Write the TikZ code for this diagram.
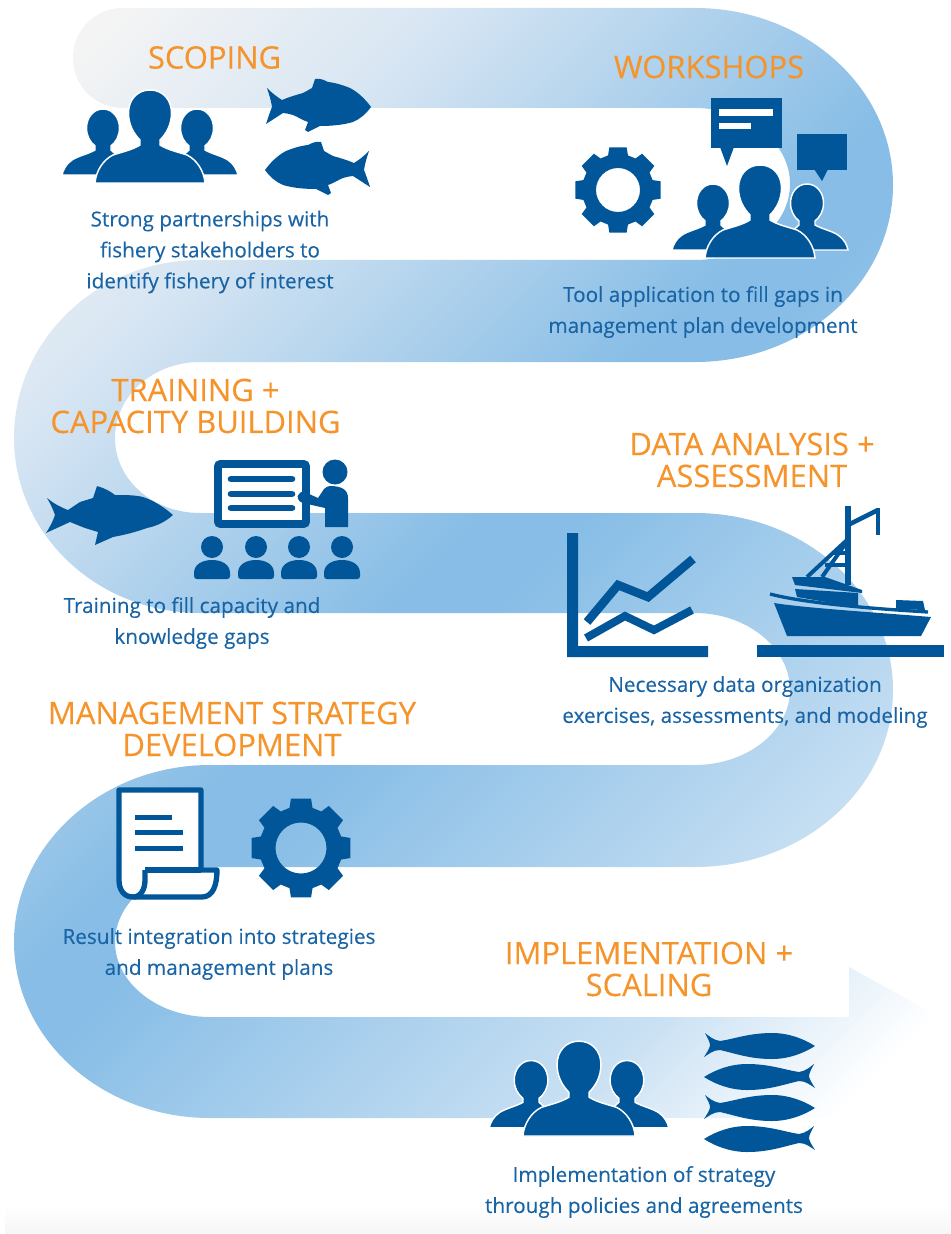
\documentclass[tikz,border=0pt]{standalone}
\usepackage{fontspec}
\setmainfont{Open Sans}
\newfontfamily\titlefont[FakeBold=0.25]{Open Sans}
\newfontfamily\descfont[FakeBold=0.2]{Open Sans}
\definecolor{icon}{RGB}{0,86,152}
\definecolor{titleor}{RGB}{246,148,44}
\definecolor{desc}{RGB}{24,100,165}
\definecolor{sa}{RGB}{244,244,244}
\definecolor{sb}{RGB}{216,230,243}
\definecolor{sc}{RGB}{135,189,230}
\definecolor{sd}{RGB}{200,224,243}
\definecolor{se}{RGB}{255,255,255}
\definecolor{floorgrey}{RGB}{246,246,246}
\pgfdeclarehorizontalshading{ribbonfill}{2000bp}{color(0bp)=(sa); color(69bp)=(sa); color(239bp)=(sb); color(530bp)=(sc); color(583bp)=(sc); color(886bp)=(sd); color(1034bp)=(se); color(1200bp)=(se)}
\tikzset{
  titletext/.style={text=titleor,align=center,inner sep=0pt,font=\titlefont\fontsize{23.3}{24}\selectfont},
  desctext/.style={text=desc,align=center,inner sep=0pt,font=\descfont\fontsize{15.6}{23.3}\selectfont},
  ic/.style={fill=icon,draw=none},
  halo/.style={fill=icon,draw=white,line width=1.1}
}
\newcommand{\smallperson}{%
  (47,-74) .. controls (57,-74) and (63.5,-65) .. (63.5,-55)
  .. controls (63.5,-47) and (60,-41) .. (55,-37) -- (55,-33)
  .. controls (62,-29) and (72,-27) .. (78,-23)
  .. controls (84,-19) and (87,-13) .. (88,-8) -- (45,-8) -- (30,-25) -- (39,-33) -- (39,-37)
  .. controls (34,-41) and (30.5,-47) .. (30.5,-55)
  .. controls (30.5,-65) and (37,-74) .. (47,-74) -- cycle}
\newcommand{\peoplegroup}[3]{%
  \begin{scope}[shift={(#1,#2)},scale=#3]
    \path[halo] \smallperson;
    \begin{scope}[xscale=-1]\path[halo] \smallperson;\end{scope}
    \path[halo] (0,-93) .. controls (13,-93) and (21.5,-83) .. (21.5,-70)
      .. controls (21.5,-58) and (16,-49) .. (10,-43) -- (10,-38)
      .. controls (18,-33) and (28,-31) .. (37,-28)
      .. controls (47,-23) and (54,-12) .. (55,0) -- (-55,0)
      .. controls (-54,-12) and (-47,-23) .. (-37,-28)
      .. controls (-28,-31) and (-18,-33) .. (-10,-38) -- (-10,-43)
      .. controls (-16,-49) and (-21.5,-58) .. (-21.5,-70)
      .. controls (-21.5,-83) and (-13,-93) .. (0,-93) -- cycle;
  \end{scope}}
\newcommand{\gearicon}[3]{%
  \begin{scope}[shift={(#1,#2)},scale=#3]
    \path[ic,even odd rule]
      (-16:36) \foreach \a in {0,45,...,315} { -- ({\a-16}:36) -- ({\a-11.5}:43.5) -- ({\a+11.5}:43.5) -- ({\a+16}:36) } -- cycle
      (0,0) circle[radius=22];
  \end{scope}}
\newcommand{\widefish}[3]{%
  \begin{scope}[shift={(#1,#2)},xscale=#3]
    \path[ic,line join=round] (2,10) .. controls (7,15) and (12,19) .. (17,22) .. controls (24,19) and (31,17) .. (38,15)
      .. controls (42,13) and (45,11) .. (47,10) -- (50,1) .. controls (55,0) and (59,2) .. (63,4)
      .. controls (72,5) and (80,8) .. (85,10) .. controls (93,14) and (101,22) .. (106,29)
      .. controls (101,36) and (95,41) .. (88,44) .. controls (78,47) and (66,48) .. (55,48)
      -- (43,54) -- (40,52) -- (43,44) .. controls (37,42) and (33,39) .. (28,37)
      .. controls (24,36) and (21,35) .. (18,35) -- (1,46) .. controls (3,40) and (5,34) .. (7,29)
      .. controls (6,22) and (4,16) .. (2,10) -- cycle;
  \end{scope}}
\newcommand{\sardine}[3]{%
  \begin{scope}[shift={(#1,#2)},xscale=#3]
    \path[ic] (1,0) .. controls (5,3) and (9,7) .. (16,8)
      .. controls (30,6) and (45,0) .. (68,0) .. controls (85,0) and (100,6) .. (111,13)
      .. controls (100,20) and (85,26) .. (68,26) .. controls (45,26) and (30,20) .. (16,17)
      .. controls (9,17) and (5,21) .. (0,24) .. controls (4,18) and (6,14) .. (6,12)
      .. controls (6,9) and (3,4) .. (1,0) -- cycle;
  \end{scope}}
\newcommand{\pupil}[2]{%
  \begin{scope}[shift={(#1,#2)}]
    \path[ic] (0,-16) circle[radius=11];
    \path[ic] (-15,16) .. controls (-17,16) and (-18,15) .. (-18,13) -- (-18,10)
      .. controls (-18,1) and (-9,-3) .. (0,-3)
      .. controls (9,-3) and (18,1) .. (18,10) -- (18,13)
      .. controls (18,15) and (17,16) .. (15,16) -- cycle;
  \end{scope}}
\begin{document}
\begin{tikzpicture}[x=0.75bp,y=-0.75bp]
\useasboundingbox (0,0) rectangle (950,1234);
\shade[top color=white,bottom color=floorgrey] (5,1205) rectangle (950,1234);
% ribbon
\begin{scope}
  \clip (123,8) -- (695,8)
    .. controls (804,8) and (893,87) .. (893,185)
    .. controls (893,283) and (804,362) .. (695,362)
    -- (200,362)
    .. controls (153,362) and (115,396) .. (115,438)
    .. controls (115,480) and (153,513) .. (200,513)
    -- (695,513)
    .. controls (804,513) and (893,592) .. (893,690)
    .. controls (893,788) and (804,867) .. (695,867)
    -- (210,867)
    .. controls (158,867) and (115,901) .. (115,942)
    .. controls (115,983) and (158,1017) .. (210,1017)
    -- (849,1017) -- (849,967) -- (1032,1068) -- (849,1168) -- (849,1118) -- (210,1118)
    .. controls (102,1118) and (14,1039) .. (14,942)
    .. controls (14,845) and (102,765) .. (210,765)
    -- (695,765)
    .. controls (747,765) and (790,731) .. (790,690)
    .. controls (790,648) and (747,613) .. (695,613)
    -- (200,613)
    .. controls (97,613) and (14,534) .. (14,438)
    .. controls (14,340) and (97,260) .. (200,260)
    -- (695,260)
    .. controls (747,260) and (790,226) .. (790,184)
    .. controls (790,142) and (747,108) .. (695,108)
    -- (123,108)
    .. controls (95,108) and (73,86) .. (73,58)
    .. controls (73,30) and (95,8) .. (123,8) -- cycle;
  \node[anchor=west,rotate=-45,inner sep=0pt,outer sep=0pt] (ribbonshade) at (0,0) {\pgfuseshading{ribbonfill}};
\end{scope}
% scoping icons
\peoplegroup{150}{183}{1}
\widefish{265}{78}{1}
\widefish{371}{141}{-1}
% workshops icons
\gearicon{618}{190}{1}
\path[ic] (711,98) rectangle (782,148);
\path[ic] (720,147) -- (727,166) -- (734,147) -- cycle;
\path[fill=white] (719,109) rectangle (773,116);
\path[fill=white] (719,123) rectangle (751,129);
\path[ic] (797,134) rectangle (847,170);
\path[ic] (814,169) -- (822,181) -- (828,169) -- cycle;
\peoplegroup{760}{258}{1}
% training icons
\path[ic] (47,498) .. controls (53,503) and (60,507) .. (68,510) -- (80,502) -- (93,498) -- (97,486)
  .. controls (104,488) and (110,491) .. (115,495) .. controls (125,495) and (135,495) .. (143,497)
  .. controls (155,501) and (165,508) .. (173,515) .. controls (165,522) and (157,526) .. (147,528)
  .. controls (136,532) and (124,535) .. (113,537) -- (95,545) -- (98,532) -- (85,528) -- (70,522)
  -- (46,533) .. controls (50,527) and (53,521) .. (55,515) .. controls (53,509) and (50,503) .. (47,498) -- cycle;
\path[draw=icon,fill=white,line width=6,rounded corners=2] (218,464) rectangle (306,524);
\foreach \yy in {479,494,508}{\draw[icon,line width=5,line cap=round] (231,\yy) -- (292,\yy);}
\path[ic] (335,472) circle[radius=12.5];
\path[ic] (330,486) .. controls (342,486) and (348,490) .. (348,498) -- (348,527) -- (325,527) -- (325,508)
  -- (303,503) .. controls (298,502) and (296,496) .. (299,494) .. controls (301,491) and (305,491) .. (307,493)
  -- (318,498) -- (324,489) .. controls (326,487) and (328,486) .. (330,486) -- cycle;
\pupil{212}{563}\pupil{256}{563}\pupil{299}{563}\pupil{342}{563}
% chart
\path[ic] (567,533) -- (578,533) -- (578,646) -- (708,646) -- (708,657) -- (567,657) -- cycle;
\draw[icon,line width=6.5] (587,622) -- (618,585) -- (648,597) -- (693,559);
\draw[icon,line width=6] (586,638) -- (625,616) -- (654,630) -- (692,610);
% boat
\path[ic] (757,645) rectangle (944,657);
\path[ic] (774,603) .. controls (805,608) and (870,612) .. (931,617) -- (921,636) -- (787,636) -- cycle;
\draw[icon,line width=2.5] (770,594) .. controls (800,602) and (860,608) .. (928,612);
\path[ic] (795,589) -- (858,593) -- (858,606) .. controls (835,604) and (815,600) .. (797,597) -- cycle;
\path[ic] (792,577) -- (825,577) -- (862,590) -- (862,593) -- (795,585) -- cycle;
\path[ic] (896,600) -- (923,601) -- (925,610) -- (896,609) -- cycle;
\draw[icon,line width=4] (848,506) -- (848,585);
\draw[icon,line width=3.5] (848,525) -- (878,510);
\draw[icon,line width=3.5] (878,508) -- (878,535);
\draw[icon,line width=3] (847,540) -- (807,577);
\draw[icon,line width=3] (846,543) -- (822,577);
\draw[icon,line width=2.5] (833,553) -- (848,553);
\draw[icon,line width=2.5] (825,565) -- (848,565);
% document
\path[fill=white,draw=icon,line width=4,line join=round] (119,790) -- (201,790) -- (201,870) -- (217,870)
  .. controls (217,885) and (213,897) .. (202,897) -- (133,897)
  .. controls (124,897) and (119,890) .. (119,880) -- cycle;
\draw[icon,line width=4] (145,870) -- (201,870);
\draw[icon,line width=4] (133,897) .. controls (141,897) and (145,889) .. (145,880) -- (145,870);
\path[ic] (135,814.5) rectangle (172,819.5);
\path[ic] (135,829.5) rectangle (183,834.5);
\path[ic] (135,845.5) rectangle (183,850.5);
\gearicon{301}{848}{1.16}
% implementation icons
\peoplegroup{579}{1136}{1.02}
\sardine{704}{1033}{1}
\sardine{815}{1064}{-1}
\sardine{704}{1095}{1}
\sardine{815}{1126}{-1}
% texts
\node[titletext] (t1) at (214.5,57.5) {SCOPING};
\node[titletext] (t2) at (709,67) {WORKSHOPS};
\node[titletext] (t3) at (195.5,406) {TRAINING +\\CAPACITY BUILDING};
\node[titletext] (t4) at (752,460) {DATA ANALYSIS +\\ASSESSMENT};
\node[titletext] (t5) at (232,729) {MANAGEMENT STRATEGY\\DEVELOPMENT};
\node[titletext] (t6) at (649,969) {IMPLEMENTATION +\\SCALING};
\node[desctext] (d1) at (210,252) {Strong partnerships with\\fishery stakeholders to\\identify fishery of interest};
\node[desctext] (d2) at (703,312) {Tool application to fill gaps in\\management plan development};
\node[desctext] (d3) at (192,623) {Training to fill capacity and\\knowledge gaps};
\node[desctext] (d4) at (745,702) {Necessary data organization\\exercises, assessments, and modeling};
\node[desctext] (d5) at (219,954) {Result integration into strategies\\and management plans};
\node[desctext] (d6) at (644,1192) {Implementation of strategy\\through policies and agreements};
\end{tikzpicture}
\end{document}
